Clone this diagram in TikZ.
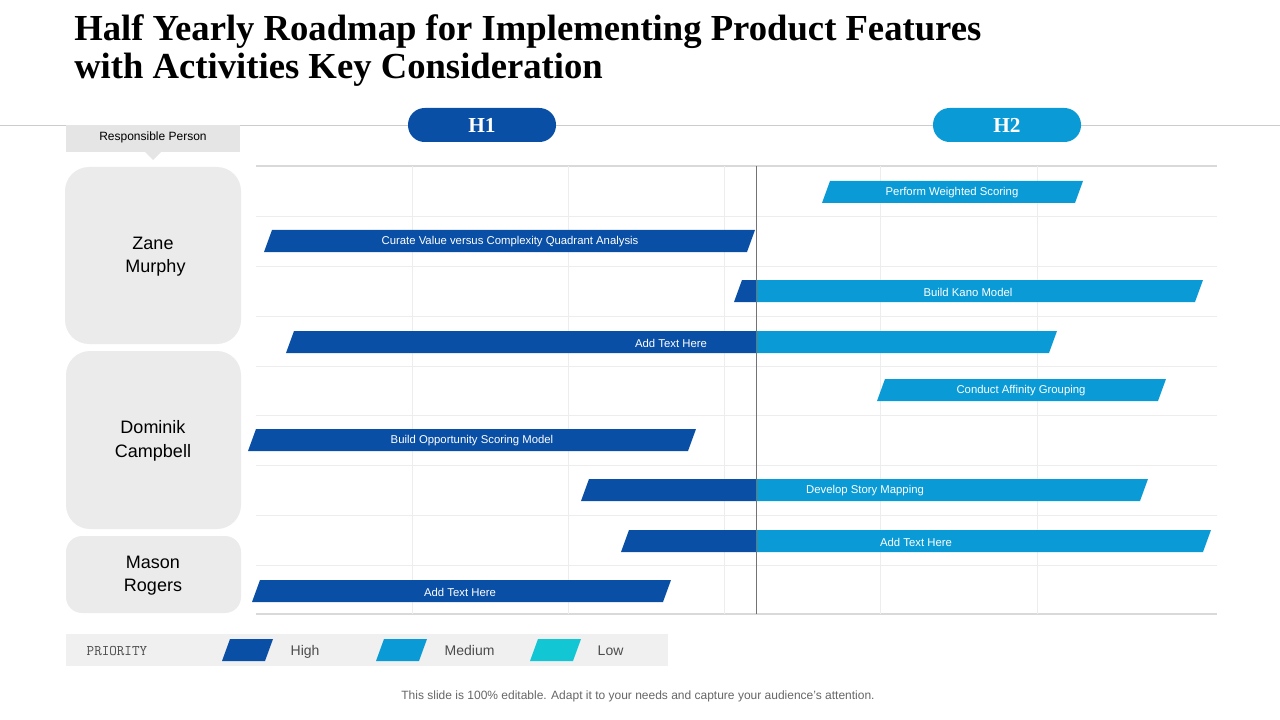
\documentclass[tikz,border=0pt]{standalone}
\usepackage{fontspec}
\setmainfont{Liberation Serif}
\setsansfont{Liberation Sans}
\definecolor{hi}{HTML}{0A4FA6}
\definecolor{me}{HTML}{0A9BD6}
\definecolor{lo}{HTML}{12C6D3}
\definecolor{gridc}{HTML}{EDEDED}
\definecolor{boxg}{HTML}{EBEBEB}
\newcommand\pbar[5]{% y, x0, xsplit, x1, color of left
  \fill[#5] (#2,#1+11) -- (#2+8,#1-11) -- (#3,#1-11) -- (#3,#1+11) -- cycle;}
\newcommand\lbar[4]{% y, xsplit, x1, color
  \fill[#4] (#2,#1+11) -- (#2,#1-11) -- (#3,#1-11) -- (#3-8,#1+11) -- cycle;}
\newcommand\fbar[4]{% y x0 x1 color
  \fill[#4] (#2,#1+11) -- (#2+8,#1-11) -- (#3,#1-11) -- (#3-8,#1+11) -- cycle;}
\begin{document}
\begin{tikzpicture}[x=0.75pt,y=-0.75pt,
  bt/.style={font=\sffamily\fontsize{8.5}{10}\selectfont,text=white,inner sep=0pt},
  person/.style={fill=boxg,rounded corners=18pt,draw=none},
  pname/.style={font=\sffamily\fontsize{13.5}{17.5}\selectfont,align=center},
  pill/.style={rounded corners=12.5pt,text=white,font=\bfseries\fontsize{16}{18}\selectfont,minimum width=111pt,minimum height=25.5pt,inner sep=0pt},
  lg/.style={font=\sffamily\fontsize{10.5}{12}\selectfont,text=black!70,anchor=west,text height=8pt,text depth=2pt}]
\useasboundingbox (0,0) rectangle (1280,720);
\node[anchor=north west,align=left,font=\bfseries\fontsize{27.5}{28.5}\selectfont,inner sep=0pt] (title) at (74,14) {Half Yearly Roadmap for Implementing Product Features\\with Activities Key Consideration};
\draw[black!20] (0,125) -- (1280,125);
% grid
\foreach \y in {216,266,316,366,415,465,515,565} \draw[gridc] (256,\y) -- (1217,\y);
\foreach \y in {166,614} \draw[black!15,line width=1pt] (256,\y) -- (1217,\y);
\foreach \x in {412,568,724,880,1037} \draw[gridc] (\x,166) -- (\x,614);
% pills
\node[pill,fill=hi] (h1) at (482,125) {H1};
\node[pill,fill=me] (h2) at (1007,125) {H2};
% responsible
\fill[black!10] (66,125) rectangle (240,152);
\fill[black!10] (145,152) -- (161,152) -- (153,160) -- cycle;
\node[font=\sffamily\fontsize{9}{10}\selectfont] (rp) at (153,137) {Responsible Person};
\fill[person] (65,167) rectangle (241,344);
\fill[person] (66,351) rectangle (241,529);
\fill[person,rounded corners=12pt] (66,536) rectangle (241,613);
\node[pname] (p1) at (153,257) {Zane\\ \ Murphy};
\node[pname] (p2) at (153,441) {Dominik\\Campbell};
\node[pname] (p3) at (153,576) {Mason\\Rogers};
% bars
\fbar{192}{822}{1083}{me}
\node[bt] (b1) at (952,193) {Perform Weighted Scoring};
\fbar{241}{264}{755}{hi}
\node[bt] (b2) at (510,242) {Curate Value versus Complexity Quadrant Analysis};
\pbar{291}{734}{756}{0}{hi}\lbar{291}{756}{1203}{me}
\node[bt] (b3) at (968,292) {Build Kano Model};
\pbar{342}{286}{757}{0}{hi}\lbar{342}{757}{1057}{me}
\node[bt] (b4) at (671,343) {Add Text Here};
\fbar{390}{877}{1166}{me}
\node[bt] (b5) at (1021,391) {Conduct Affinity Grouping};
\fbar{440}{248}{696}{hi}
\node[bt] (b6) at (472,441) {Build Opportunity Scoring Model};
\pbar{490}{581}{756}{0}{hi}\lbar{490}{756}{1148}{me}
\node[bt] (b7) at (865,491) {Develop Story Mapping};
\pbar{541}{621}{756}{0}{hi}\lbar{541}{756}{1211}{me}
\node[bt] (b8) at (916,542) {Add Text Here};
\fbar{591}{252}{671}{hi}
\node[bt] (b9) at (460,592) {Add Text Here};
\draw[black!55] (756,166) -- (756,614);
% legend
\fill[black!6] (66,634) rectangle (668,666);
\node[lg,font=\ttfamily\fontsize{11}{12}\selectfont] (pr) at (82,651) {PRIORITY};
\fbar{650}{222}{273}{hi}\node[lg] (l1) at (286,651) {High};
\fbar{650}{376}{427}{me}\node[lg] (l2) at (440,651) {Medium};
\fbar{650}{530}{581}{lo}\node[lg] (l3) at (593,651) {Low};
\node[font=\sffamily\fontsize{9}{10}\selectfont,text=black!60] (ft) at (638,696) {This slide is 100\% editable. Adapt it to your needs and capture your audience's attention.};
\end{tikzpicture}
\end{document}
